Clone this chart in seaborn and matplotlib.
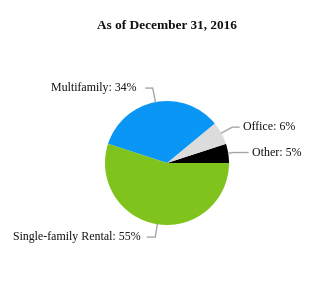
import numpy as np
import matplotlib
matplotlib.use("Agg")
import matplotlib.pyplot as plt
import seaborn as sns

sns.set_theme(style="white")
plt.rcParams['font.family'] = ['Liberation Serif', 'DejaVu Serif']

categories = ["Other", "Office", "Multifamily", "Single-family Rental"]
shares = [5, 6, 34, 55]
colors = ["#000000", "#DCDCDC", "#0A96F5", "#7FC31C"]
title = "As of December 31, 2016"

W, H = 333, 300
fig = plt.figure(figsize=(W / 100, H / 100), dpi=100)
cx, cy, R = 167, 163, 62
k = 1.0
ax = fig.add_axes([(cx - R * k) / W, (H - cy - R * k) / H, 2 * R * k / W, 2 * R * k / H])

wedges, _ = ax.pie(shares, colors=colors, startangle=0, counterclock=True,
                   radius=1.0, wedgeprops=dict(linewidth=0))
ax.set_xlim(-k, k)
ax.set_ylim(-k, k)
ax.axis("off")

# layout of leader lines: elbow radius, horizontal length (px), gap (px)
elbow_r = [1.08, 1.2, 1.23, 1.21]
hlen = [15, 7, 7, 8]
gaps = [4, 4, 9, 7]
for w, cat, val, er, hl, gp in zip(wedges, categories, shares, elbow_r, hlen, gaps):
    th = np.deg2rad((w.theta1 + w.theta2) / 2)
    x0, y0 = np.cos(th), np.sin(th)
    x1, y1 = er * np.cos(th), er * np.sin(th)
    s = 1 if x0 >= 0 else -1
    x2 = x1 + s * hl / R
    ax.plot([x0, x1, x2], [y0, y1, y1], color="#A6A6A6", lw=1, clip_on=False,
            solid_joinstyle="miter")
    ax.text(x2 + s * gp / R, y1, f"{cat}: {val}%", ha="left" if s > 0 else "right",
            va="center", fontsize=8.6, color="#111111", clip_on=False)

fig.text(0.5, 1 - 25 / H, title, ha="center", va="center", fontsize=9.5,
         fontweight="bold", color="#111111")

fig.savefig("out.png", dpi=100, facecolor="white")
